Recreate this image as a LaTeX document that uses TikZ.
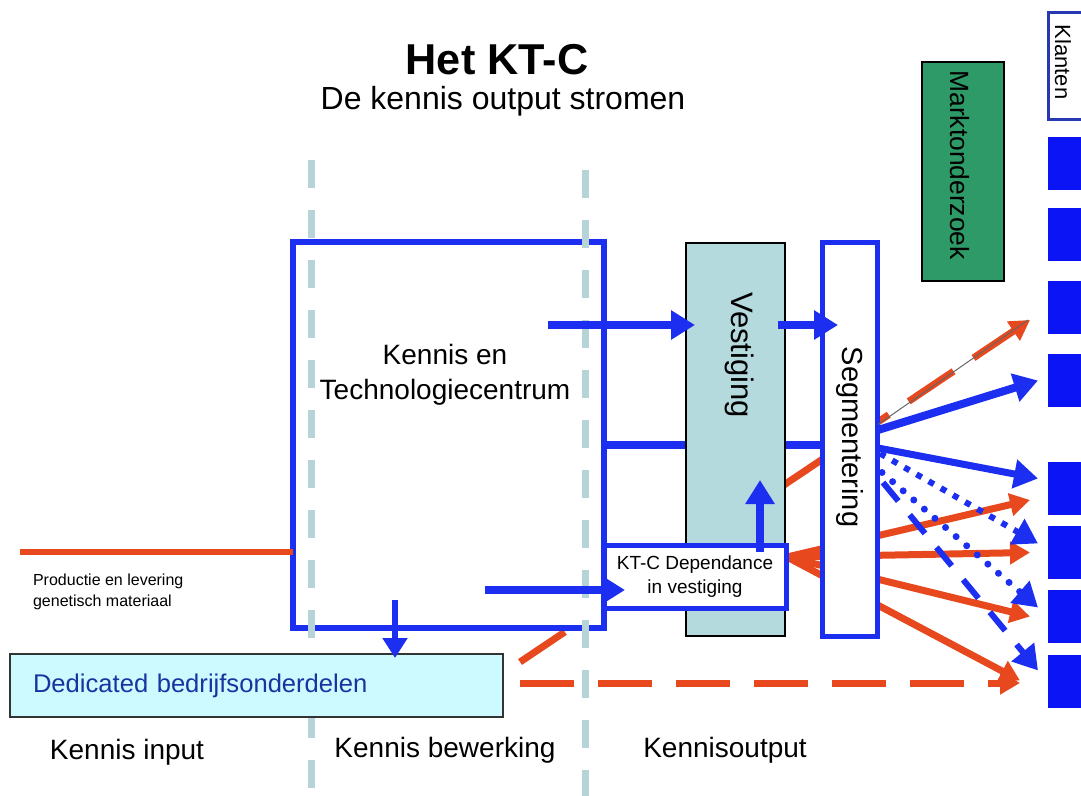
\documentclass[tikz,border=0pt]{standalone}
\usepackage{fontspec}
\setmainfont{Liberation Sans}
\usetikzlibrary{arrows.meta, calc, backgrounds}
\definecolor{cblue}{HTML}{1C2FF0}
\definecolor{cblock}{HTML}{0A14F5}
\definecolor{cnavy}{HTML}{2838B0}
\definecolor{cred}{HTML}{E8481E}
\definecolor{cguide}{HTML}{B6D4D8}
\definecolor{cvest}{HTML}{B4DADE}
\definecolor{cgreen}{HTML}{2E9A68}
\definecolor{cded}{HTML}{CCFAFF}
\definecolor{cdedtext}{HTML}{1A33A0}
\tikzset{
  bluebox/.style={draw=cblue, line width=#1, fill=white, inner sep=0pt, outer sep=0pt},
  bluebox/.default=2.5pt,
  flat/.style={draw=black, line width=0.6pt, fill=#1, inner sep=0pt, outer sep=0pt},
  block/.style={fill=cblock, draw=none, minimum width=25pt, minimum height=26.5pt, outer sep=0pt},
  vtext/.style={rotate=-90, font=\fontsize{#1}{#1}\selectfont},
  big/.style={font=\fontsize{14}{17.5}\selectfont, align=center},
  guide/.style={draw=cguide, line width=3.5pt, dash pattern=on 14pt off 11pt},
  barrow/.style={-{Triangle[length=12pt, width=14pt]}, draw=cblue, line width=4pt},
  bline/.style={draw=cblue, line width=4pt},
  rarrow/.style={-{Triangle[length=10pt, width=11pt]}, draw=cred, line width=3.5pt},
  rline/.style={draw=cred, line width=3pt},
  rdash/.style={rarrow, dash pattern=on 27pt off 12pt},
}

\begin{document}
\begin{tikzpicture}[x=0.5pt, y=-0.5pt]
  \clip (0,0) rectangle (1081,796);
  \node[font=\fontsize{21.6}{26}\selectfont\bfseries] (title) at (497,60) {Het KT-C};
  \node[font=\fontsize{16}{19}\selectfont] (sub) at (503,101) {De kennis output stromen};

  \node[bluebox=3pt, minimum width=155.5pt, minimum height=193pt] (ktc) at (448.5,435) {};
  \node[big] (ktclabel) at (445,375) {Kennis en\\Technologiecentrum};
  \draw[guide] (311,160) -- (311,796);
  \draw[guide] (585,170) -- (585,796);

  \node[draw=black!80, line width=0.6pt, fill=cded, text=cdedtext, inner xsep=11.5pt, outer sep=0pt,
    text width=223.5pt, minimum height=31.5pt, align=left, font=\fontsize{12.8}{15}\selectfont] (ded) at (256.5,685.5) {Dedicated bedrijfsonderdelen};
  \node[flat=cvest, minimum width=49.5pt, minimum height=196.5pt] (vest) at (735.5,439.5) {};
  \node[vtext=15.5] (vestlabel) at (740,355) {Vestiging};
  \node[bluebox, minimum width=27.5pt, minimum height=196.5pt] (seg) at (849.5,439.5) {};
  \node[vtext=14.5] (seglabel) at (850,437) {Segmentering};
  \node[bluebox, minimum width=91pt, minimum height=31.5pt, align=center,
    font=\fontsize{9.5}{12}\selectfont] (dep) at (695,576.5) {KT-C Dependance\\in vestiging};
  \node[flat=cgreen, minimum width=41pt, minimum height=109.5pt] (markt) at (963,171.5) {};
  \node[vtext=13.2] (marktlabel) at (960,165) {Marktonderzoek};
  \node[draw=cnavy, line width=1.5pt, fill=white, minimum width=21pt, minimum height=53.5pt] (klant) at (1069,66.5) {};
  \node[vtext=11] (klantlabel) at (1063,62) {Klanten};
  \foreach \y [count=\i] in {163.5,235,308,380.5,488.5,552.5,616.5,681.5}
    \node[block] (k\i) at (1073,\y) {};

  \coordinate (src) at (20,552);
  \node[anchor=north west, align=left, font=\fontsize{8}{10.5}\selectfont] (prod) at (26,567) {Productie en levering\\ genetisch materiaal};
  \node[big] (inlabel) at (127,752) {Kennis input};
  \node[big] (bewlabel) at (445,750) {Kennis bewerking};
  \node[big] (outlabel) at (725,750) {Kennisoutput};

  \begin{scope}[on background layer]
    \draw[bline] ($(ktc.east)+(0,10)$) -- ($(seg.west)+(0,5.5)$);
    \draw[rdash] ($(ded.north east)+(17,8)$) -- ($(k3.west)+(-18,12)$);
    \draw[rdash] ($(ded.east)+(17,-2.5)$) -- ($(k8.west)+(-28,1.5)$);
    \draw[rarrow] ($(dep.east)+(1,-19.5)$) -- ($(k5.west)+(-18,11.5)$);
    \draw[rarrow] ($(dep.east)+(1,-19.5)$) -- ($(k6.west)+(-18,0)$);
    \draw[rarrow] ($(dep.east)+(1,-19.5)$) -- ($(k7.west)+(-18,0)$);
    \draw[rarrow] ($(dep.east)+(1,-19.5)$) -- ($(k8.west)+(-28,-1)$);
  \end{scope}
  \draw[rline] (src) -- (src -| ktc.west);

  \draw[barrow] ($(ktc.east)+(-56,-110)$) -- ($(vest.west)+(9,-114.5)$);
  \draw[barrow] ($(vest.east)+(-7,-114.5)$) -- ($(seg.west)+(16,-114.5)$);
  \draw[barrow] ($(dep.north)+(65,7)$) -- ($(vest.south)+(24.5,-156)$);
  \draw[barrow] ($(ktc.south)+(36.5,-38)$) -- ($(dep.west)+(21,13.5)$);
  \draw[barrow, -{Triangle[length=10pt, width=12pt]}, line width=3pt] ($(ktc.south)+(-53.5,-28)$) -- ($(ded.north)+(138.5,4)$);

  \draw[draw=black!60, line width=0.5pt] ($(seg.east)+(1,-15)$) -- ($(k3.west)+(-20,12)$);
  \draw[barrow] ($(seg.east)+(1,-9.5)$) -- ($(k4.west)+(-10,0)$);
  \draw[barrow, line width=3.5pt] ($(seg.east)+(1,8.5)$) -- ($(k5.west)+(-10,-10)$);
  \draw[barrow, line width=3pt, dash pattern=on 3pt off 4pt] ($(seg.east)+(3,14)$) -- ($(k6.west)+(-10,-9)$);
  \draw[barrow, line width=3.5pt, line cap=round, dash pattern=on 0pt off 7pt] ($(seg.east)+(5,33)$) -- ($(k7.west)+(-10,-9)$);
  \draw[barrow, line width=3pt, dash pattern=on 12pt off 9pt] ($(seg.east)+(6,43)$) -- ($(k8.west)+(-10,-11)$);
\end{tikzpicture}
\end{document}
